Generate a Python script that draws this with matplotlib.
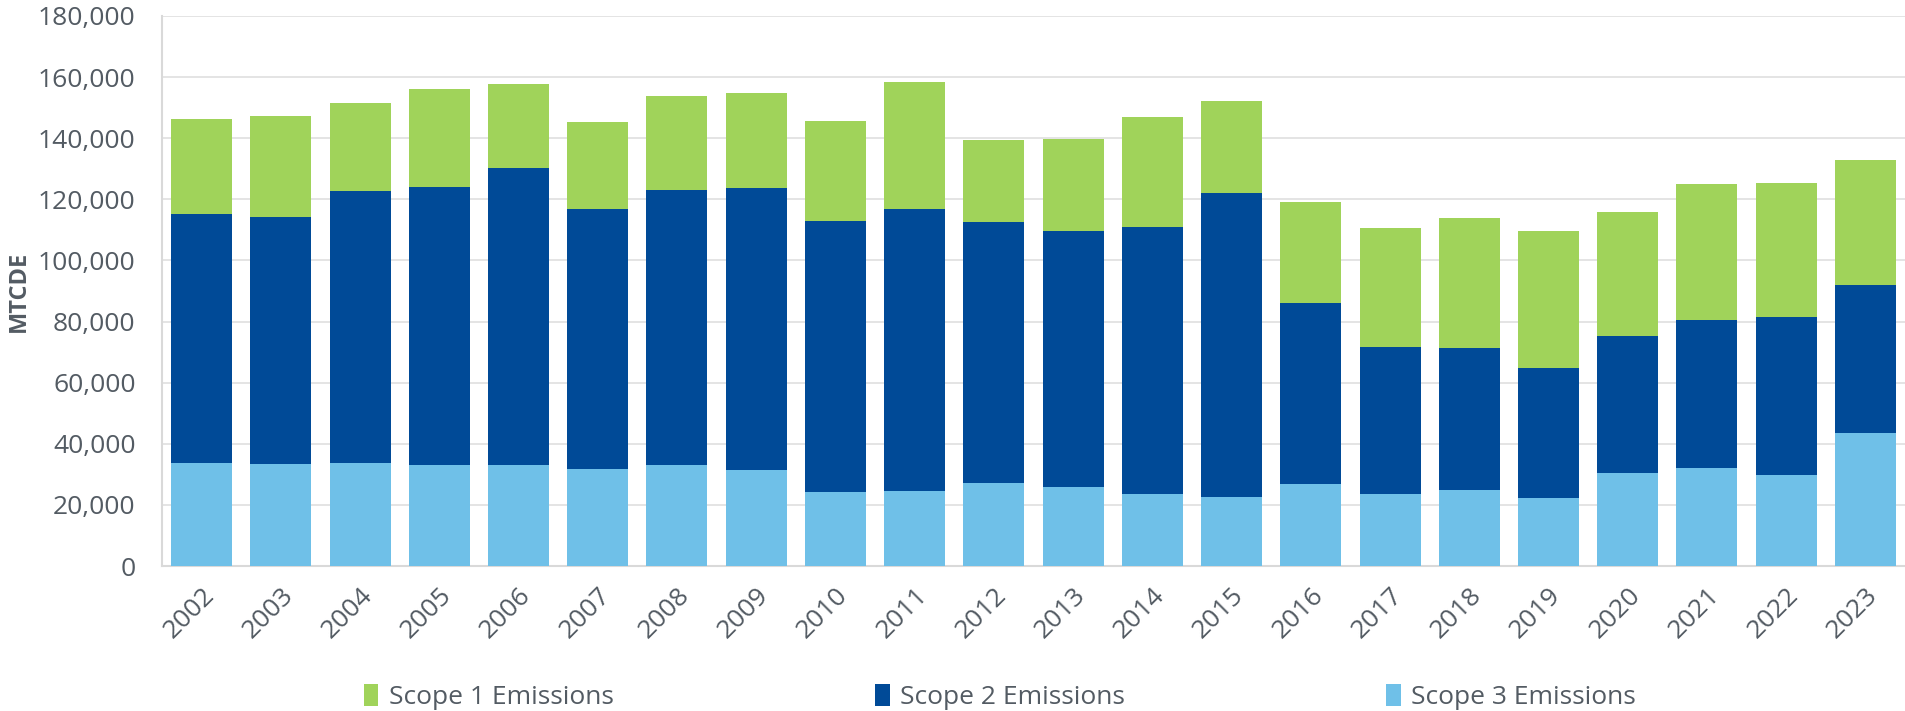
import matplotlib
matplotlib.use("Agg")
import matplotlib.pyplot as plt
import numpy as np
from matplotlib.ticker import FuncFormatter, MultipleLocator

years = [str(y) for y in range(2002, 2024)]
scope3 = [33800, 33300, 33700, 33200, 33100, 31700, 32900, 31500, 24300, 24500, 27100,
          25900, 23600, 22700, 27000, 23600, 24900, 22300, 30300, 32100, 29800, 43600]
scope2 = [81300, 80800, 89000, 91000, 97000, 85200, 90200, 92200, 88600, 92500, 85400,
          83700, 87500, 99400, 59100, 48200, 46600, 42500, 45100, 48400, 51800, 48500]
scope1 = [31100, 33200, 28700, 32000, 27500, 28500, 30700, 31200, 32800, 41400, 26800,
          30200, 36000, 30000, 33100, 38900, 42500, 44800, 40600, 44500, 43800, 40700]
series_names = ["Scope 1 Emissions", "Scope 2 Emissions", "Scope 3 Emissions"]

c1 = "#A0D35A"
c2 = "#004A97"
c3 = "#6FC0E8"
txt = "#535B63"

plt.rcParams["font.family"] = ["Open Sans", "DejaVu Sans"]

fig = plt.figure(figsize=(19.05, 7.11), dpi=100)
ax = fig.add_axes([162/1905, 1-566/711, 1-162/1905, (566-16)/711])

x = np.arange(len(years))
w = 0.77
s3 = np.array(scope3)
s2 = np.array(scope2)
s1 = np.array(scope1)
b3 = ax.bar(x, s3, w, color=c3, zorder=3)
b2 = ax.bar(x, s2, w, bottom=s3, color=c2, zorder=3)
b1 = ax.bar(x, s1, w, bottom=s3 + s2, color=c1, zorder=3)

ax.set_xlim(-0.5, len(years) - 0.5)
ax.set_ylim(0, 180000)
ax.yaxis.set_major_locator(MultipleLocator(20000))
ax.yaxis.set_major_formatter(FuncFormatter(lambda v, p: f"{int(v):,}"))
ax.grid(axis="y", color="#E2E2E2", linewidth=1.3, zorder=0)
ax.set_axisbelow(True)

for s in ["top", "right"]:
    ax.spines[s].set_visible(False)
for s in ["left", "bottom"]:
    ax.spines[s].set_color("#D9D9D9")
    ax.spines[s].set_linewidth(1.5)

ax.tick_params(axis="y", length=0, pad=19, labelsize=19, labelcolor=txt)
ax.tick_params(axis="x", length=0, pad=12, labelsize=19, labelcolor=txt)
ax.set_xticks(x)
ax.set_xticklabels(years, rotation=45, ha="right", rotation_mode="anchor")

ax.set_ylabel("MTCDE", fontsize=17, fontweight="bold", color=txt, labelpad=12)
ax.yaxis.set_label_coords(-0.075, 0.5)

fig.legend([b1, b2, b3], series_names, loc="center", bbox_to_anchor=(1000/1905, 1-697/711),
           ncol=3, frameon=False, fontsize=19, labelcolor=txt, handlelength=0.55,
           handleheight=0.9, handletextpad=0.4, columnspacing=9.9)

fig.savefig("out.png", dpi=100, facecolor="white")
